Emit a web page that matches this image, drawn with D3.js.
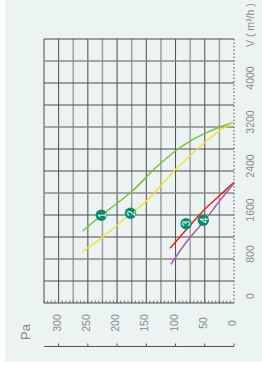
<!DOCTYPE html>
<html><head><meta charset="utf-8">
<script src="https://cdn.jsdelivr.net/npm/d3@7"></script>
<style>html,body{margin:0;padding:0;background:#fff;}svg{display:block;}</style>
</head><body>
<svg id="c" width="262" height="365"></svg>
<script>
// Data: flow V (m³/h) vs pressure (Pa)
const paTicks = [300, 250, 200, 150, 100, 50, 0];
const vTicks = [0, 800, 1600, 2400, 3200, 4000];
const curve1 = [[259,1309],[226,1600],[174,2036],[135,2449],[98,2782],[75,2945],[47,3097],[24,3200],[0,3285]];
const curve2 = [[259,933],[226,1188],[177,1618],[149,1861],[124,2145],[98,2449],[72,2709],[47,2945],[21,3158],[0,3285]];
const curve3 = [[109.5,994],[81,1340],[52.5,1679],[25,1950],[0,2194]];
const curve4 = [[108,703],[81,1115],[49.6,1509],[25,1850],[0,2176]];
const markers = [["1",227,1595],["2",177,1631],["3",82,1442],["4",52.5,1504]];
const seriesColors = ["#7dbd3f","#f0e43c","#e8231f","#a65db0"];

const svg = d3.select("#c");
svg.append("rect").attr("x",5).attr("y",0).attr("width",257).attr("height",362).attr("fill","#ebf4f2");

const x = d3.scaleLinear().domain([325,0]).range([44,234]);
const y = d3.scaleLinear().domain([0,4800]).range([303,39]);

const g = svg.append("g");
// vertical grid lines
d3.range(325, -1, -25).forEach((p,i)=>{
  if (p===0) return;
  const major = (p % 50 === 0) || p===325;
  g.append("line").attr("x1",x(p)).attr("x2",x(p)).attr("y1",y(4800)).attr("y2",y(0))
    .attr("stroke", major ? "#4d4d4d" : "#9a9a9a").attr("stroke-width", major?1:1.4);
});
// horizontal grid lines
d3.range(0, 4801, 400).forEach(v=>{
  if (v===0) return;
  const light = (v % 1200 === 800);
  g.append("line").attr("x1",x(325)).attr("x2",x(0)).attr("y1",y(v)).attr("y2",y(v))
    .attr("stroke", light ? "#8c8c8c" : "#4d4d4d").attr("stroke-width", light?1.3:1);
});
// bottom edge
g.append("line").attr("x1",x(325)).attr("x2",x(0)).attr("y1",y(0)).attr("y2",y(0)).attr("stroke","#4d4d4d").attr("stroke-width",1);
d3.range(325, 0, -6.25).forEach(p=>{
  g.append("line").attr("x1",x(p)).attr("x2",x(p)).attr("y1",y(0)).attr("y2",y(0)-2.5).attr("stroke","#555").attr("stroke-width",0.8);
});
// right edge dotted
g.append("line").attr("x1",x(0)).attr("x2",x(0)).attr("y1",y(4800)).attr("y2",y(0))
  .attr("stroke","#555").attr("stroke-width",1).attr("stroke-dasharray","1.5,2");

// curves
const line = d3.line().x(d=>x(d[0])).y(d=>y(d[1])).curve(d3.curveCatmullRom.alpha(0.5));
[curve1,curve2,curve3,curve4].forEach((c,i)=>{
  svg.append("path").attr("d",line(c)).attr("fill","none").attr("stroke",seriesColors[i]).attr("stroke-width",1.5);
});

// markers
markers.forEach(m=>{
  const mx = x(m[1]), my = y(m[2]);
  svg.append("circle").attr("cx",mx).attr("cy",my).attr("r",5.7).attr("fill","#0a8a6c");
  svg.append("text").attr("transform",`translate(${mx+0.3},${my}) rotate(-90)`)
    .attr("text-anchor","middle").attr("dominant-baseline","central")
    .attr("font-family","Liberation Sans, Arial, sans-serif").attr("font-size",10.5).attr("fill","#fff").text(m[0]);
});

// right axis labels (V)
const font = "Liberation Sans, Arial, sans-serif";
vTicks.forEach(v=>{
  const yy = Math.min(y(v)-5, 296);
  svg.append("text").attr("transform",`translate(250,${yy}) rotate(-90)`)
    .attr("text-anchor","middle").attr("dominant-baseline","central")
    .attr("font-family",font).attr("font-size",10.5).attr("fill","#8a8a8a").text(v);
});
svg.append("text").attr("transform",`translate(250,47) rotate(-90)`)
  .attr("text-anchor","start").attr("dominant-baseline","central")
  .attr("font-family",font).attr("font-size",10.5).attr("fill","#8a8a8a").text("V ( m³/h )");

// bottom Pa axis
const axY = 346.5;
svg.append("line").attr("x1",x(325)).attr("x2",x(0)).attr("y1",axY).attr("y2",axY).attr("stroke","#555").attr("stroke-width",1);
paTicks.forEach(p=>{
  svg.append("line").attr("x1",x(p)).attr("x2",x(p)).attr("y1",axY).attr("y2",axY-3).attr("stroke","#555").attr("stroke-width",1);
  svg.append("text").attr("transform",`translate(${x(p)-2},323) rotate(-90)`)
    .attr("text-anchor","middle").attr("dominant-baseline","central")
    .attr("font-family",font).attr("font-size",10.5).attr("fill","#8a8a8a").text(p);
});
svg.append("text").attr("transform",`translate(25,332) rotate(-90)`)
  .attr("text-anchor","middle").attr("dominant-baseline","central")
  .attr("font-family",font).attr("font-size",13).attr("fill","#8a8a8a").text("Pa");
</script>
</body></html>
